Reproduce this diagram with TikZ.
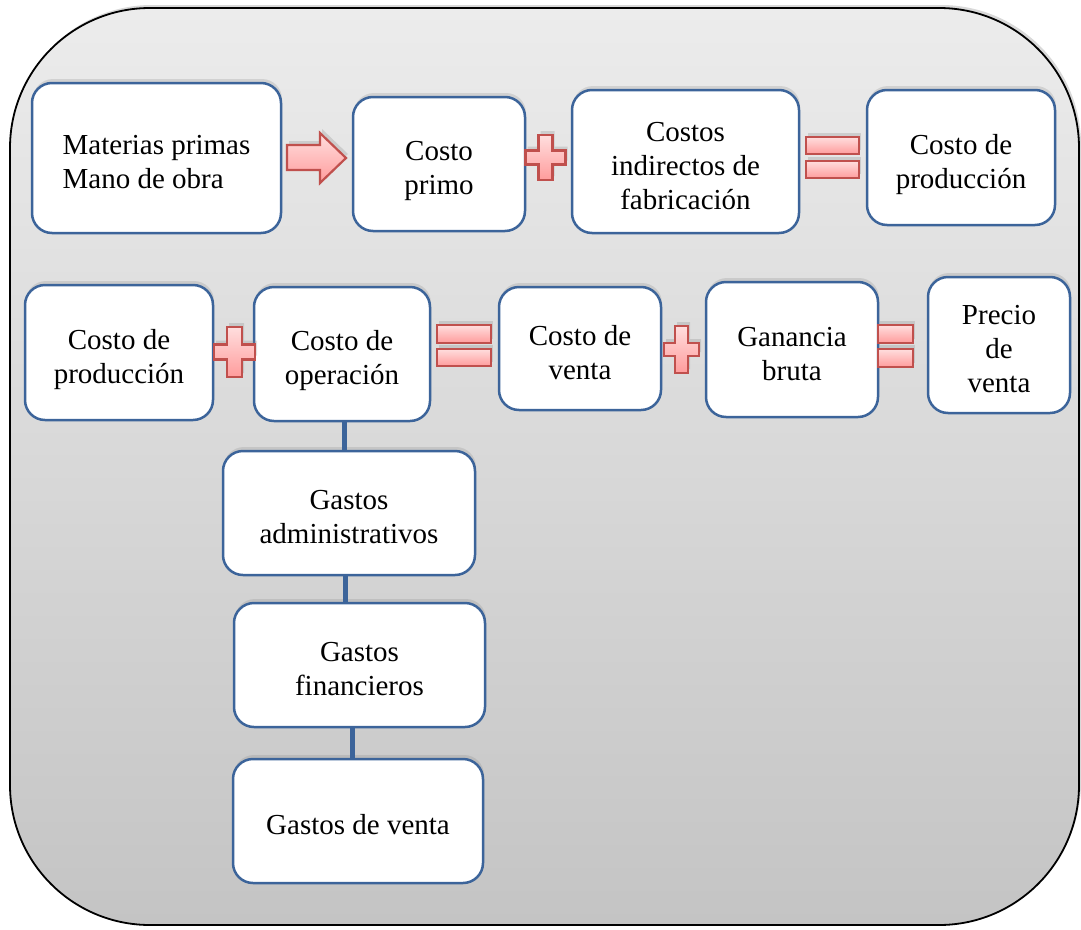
\documentclass[tikz,border=0pt]{standalone}
\usepackage{fontspec}
\setmainfont{Liberation Serif}
\usetikzlibrary{shadows,calc}
\definecolor{boxblue}{HTML}{3C649A}
\definecolor{symred}{HTML}{C0504D}
\definecolor{symtop}{HTML}{FFDEDE}
\definecolor{symbot}{HTML}{FF9C9C}
\definecolor{bgtop}{HTML}{ECECEC}
\definecolor{bgbot}{HTML}{C4C4C4}
\tikzset{
  box/.style={draw=boxblue, line width=2.5, fill=white, rounded corners=20,
    inner sep=0, font=\fontsize{29}{34}\selectfont,
    drop shadow={opacity=0.22, shadow xshift=1, shadow yshift=-4}},
  conn/.style={draw=boxblue, line width=5},
  sym/.style={draw=symred, line width=2.2, top color=symtop, bottom color=symbot,
    drop shadow={opacity=0.25, shadow xshift=2, shadow yshift=-4}},
  frame/.style={draw=black, line width=1.8, top color=bgtop, bottom color=bgbot,
    rounded corners=140, drop shadow={opacity=0.3, shadow xshift=2, shadow yshift=-3}},
}
\newcommand{\tx}[2][c]{\raisebox{0pt}[\dimexpr\height+14pt\relax][\depth]{\begin{tabular}{@{}#1@{}}#2\end{tabular}}}
\newcommand{\drawplus}[5]{% cx, cy, half width, half height, half thickness
  \path[sym] ({#1-#5},{#2-#4}) -- ({#1+#5},{#2-#4}) -- ({#1+#5},{#2-#5}) -- ({#1+#3},{#2-#5})
    -- ({#1+#3},{#2+#5}) -- ({#1+#5},{#2+#5}) -- ({#1+#5},{#2+#4}) -- ({#1-#5},{#2+#4})
    -- ({#1-#5},{#2+#5}) -- ({#1-#3},{#2+#5}) -- ({#1-#3},{#2-#5}) -- ({#1-#5},{#2-#5}) -- cycle;}
\begin{document}
\begin{tikzpicture}[x=1pt,y=-1pt]
\useasboundingbox (0,0) rectangle (1081,929);
% outer frame
\path[frame] (10,8) rectangle (1079,925);

% row 1
\node[box, minimum width=249, minimum height=150] (b1) at (156.5,158) {\tx[l]{Materias primas\\Mano de obra}};
\node[box, minimum width=172, minimum height=134] (b2) at (439,164) {\tx{Costo\\primo}};
\node[box, minimum width=227, minimum height=143] (b3) at (685.5,161.5) {\tx{Costos\\indirectos de\\fabricación}};
\node[box, minimum width=188, minimum height=135] (b4) at (961,157.5) {\tx{Costo de\\producción}};

% row 2
\node[box, minimum width=188, minimum height=135] (b5) at (119,352.5) {\tx{Costo de\\producción}};
\node[box, minimum width=176, minimum height=134] (b6) at (342,354) {\tx{Costo de\\operación}};
\node[box, minimum width=162, minimum height=123] (b7) at (580,348.5) {\tx{Costo de\\venta}};
\node[box, minimum width=172, minimum height=135] (b8) at (792,349.5) {\tx{Ganancia\\bruta}};
\node[box, minimum width=142, minimum height=136] (b9) at (999,345) {\tx{Precio\\de\\venta}};

% column
\node[box, minimum width=252, minimum height=124] (b10) at (349,513) {\tx{Gastos\\administrativos}};
\node[box, minimum width=251, minimum height=124] (b11) at (359.5,665) {\tx{Gastos\\financieros}};
\node[box, minimum width=250, minimum height=124] (b12) at (358,821) {\tx{Gastos de venta}};

% connectors
\draw[conn] ([xshift=2]b6.south) -- ([xshift=2]b6.south |- b10.north);
\draw[conn] ([xshift=-4]b10.south) -- ([xshift=-4]b10.south |- b11.north);
\draw[conn] ([xshift=-7.5]b11.south) -- ([xshift=-7.5]b11.south |- b12.north);

% arrow
\path[sym] (287,145) -- (320,145) -- (320,133) -- (346,158) -- (320,183) -- (320,170) -- (287,170) -- cycle;

% plus signs
\drawplus{545.5}{157.5}{20}{22.5}{7}
\drawplus{234.5}{352}{20.5}{25}{7.5}
\drawplus{681.5}{349.5}{17.5}{23.5}{6.5}

% equals signs
\path[sym] (806,137) rectangle (859,154);
\path[sym] (806,161) rectangle (859,178);
\path[sym] (437,325) rectangle (491,343);
\path[sym] (437,349) rectangle (491,366);
\path[sym] (878,325) rectangle (913,343);
\path[sym] (878,349) rectangle (913,367);
\end{tikzpicture}
\end{document}
